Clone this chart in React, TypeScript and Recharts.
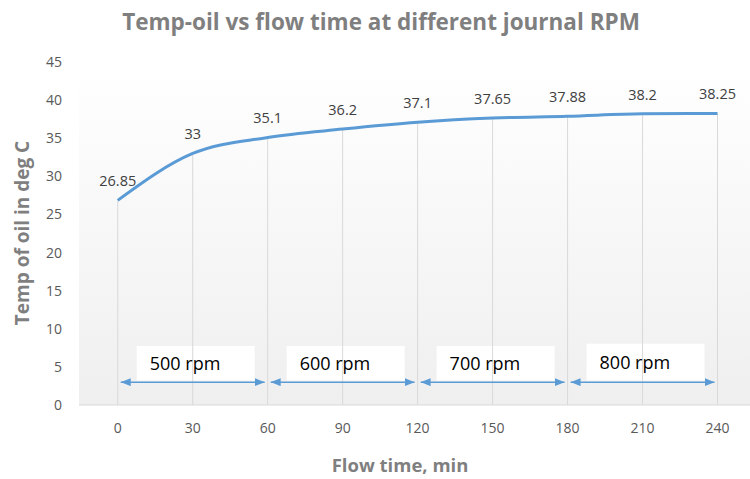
import { LineChart, Line, XAxis, YAxis, CartesianGrid, ReferenceLine, ReferenceArea, LabelList } from 'recharts'

const flowTime = [0, 30, 60, 90, 120, 150, 180, 210, 240]
const oilTemp = [26.85, 33, 35.1, 36.2, 37.1, 37.65, 37.88, 38.2, 38.25]
const xTicks = [0, 30, 60, 90, 120, 150, 180, 210, 240]
const yTicks = [0, 5, 10, 15, 20, 25, 30, 35, 40, 45]

const rpmLabels = ['500 rpm', '600 rpm', '700 rpm', '800 rpm']
const rpmFrom = [0, 60, 120, 180]
const rpmTo = [60, 120, 180, 240]
const rpmBoxTop = [7.75, 7.75, 7.75, 8.05]

const data = flowTime.map((t, i) => ({ t, temp: oilTemp[i] }))

const blue = '#5b9bd5'
const font = '"Open Sans", "DejaVu Sans", sans-serif'

const arrowShape = (p: any) => (
  <line
    x1={p.x1}
    y1={p.y1}
    x2={p.x2}
    y2={p.y2}
    stroke={blue}
    strokeWidth={1.5}
    markerStart="url(#arrowHead)"
    markerEnd="url(#arrowHead)"
  />
)

export default function App() {
  return (
    <div style={{ position: 'absolute', left: 0, top: 0, width: 750, height: 479, background: '#fff', fontFamily: font }}>
      <LineChart width={750} height={479} data={data} margin={{ top: 62, right: 0, bottom: 0, left: 0 }}>
        <CartesianGrid horizontal={false} vertical={false} fill="url(#plotBg)" stroke="none" />
        <XAxis
          dataKey="t"
          type="number"
          domain={[-15.5, 253]}
          ticks={xTicks}
          height={74}
          tickLine={false}
          tickMargin={12}
          axisLine={{ stroke: '#d9d9d9' }}
          tick={{ fill: '#595959', fontSize: 14, fontFamily: font }}
        />
        <YAxis
          type="number"
          domain={[0, 45]}
          ticks={yTicks}
          width={79}
          tickLine={false}
          axisLine={false}
          tickMargin={11}
          tick={{ fill: '#595959', fontSize: 14, fontFamily: font }}
        />
        {data.map((d) => (
          <ReferenceLine
            key={'drop' + d.t}
            segment={[{ x: d.t, y: 0 }, { x: d.t, y: d.temp }]}
            stroke="#d9d9d9"
            strokeWidth={1}
          />
        ))}
        {rpmLabels.map((label, i) => (
          <ReferenceArea
            key={'box' + i}
            x1={rpmFrom[i] + 7.6}
            x2={rpmTo[i] - 5.2}
            y1={3.2}
            y2={rpmBoxTop[i]}
            fill="#ffffff"
            fillOpacity={1}
            stroke="none"
            label={{ value: label, position: 'insideLeft', offset: 13, fill: '#000', fontSize: 18, fontFamily: font }}
          />
        ))}
        {rpmLabels.map((label, i) => (
          <ReferenceLine
            key={'arrow' + label}
            segment={[{ x: rpmFrom[i] + 1.2, y: 3 }, { x: rpmTo[i] - 1.2, y: 3 }]}
            shape={arrowShape}
          />
        ))}
        <Line
          type="monotone"
          dataKey="temp"
          stroke={blue}
          strokeWidth={3}
          dot={false}
          isAnimationActive={false}
        >
          <LabelList dataKey="temp" position="top" offset={14} fill="#404040" fontSize={14.5} fontFamily={font} />
        </Line>
      </LineChart>
      <svg width={750} height={479} style={{ position: 'absolute', left: 0, top: 0, pointerEvents: 'none' }}>
        <defs>
          <linearGradient id="plotBg" x1="0" y1="0" x2="0" y2="1">
            <stop offset="0%" stopColor="#ffffff" />
            <stop offset="100%" stopColor="#efefef" />
          </linearGradient>
          <marker
            id="arrowHead"
            viewBox="0 0 10 8"
            refX={10}
            refY={4}
            markerWidth={10}
            markerHeight={8}
            markerUnits="userSpaceOnUse"
            orient="auto-start-reverse"
          >
            <path d="M0,0 L10,4 L0,8 z" fill={blue} />
          </marker>
        </defs>
        <text x={381} y={30} textAnchor="middle" fill="#7f7f7f" fontSize={22.5} fontWeight="bold" fontFamily={font}>
          Temp-oil vs flow time at different journal RPM
        </text>
        <text x={400} y={472} textAnchor="middle" fill="#7f7f7f" fontSize={18.5} fontWeight="bold" fontFamily={font}>
          Flow time, min
        </text>
        <text
          x={0}
          y={0}
          transform="translate(29 233) rotate(-90)"
          textAnchor="middle"
          fill="#7f7f7f"
          fontSize={19}
          fontWeight="bold"
          fontFamily={font}
        >
          Temp of oil in deg C
        </text>
      </svg>
    </div>
  )
}
